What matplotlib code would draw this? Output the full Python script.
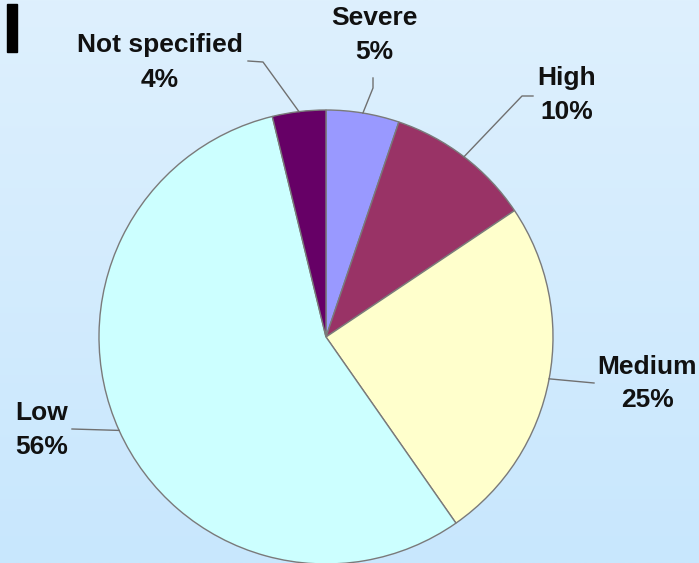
import numpy as np
import matplotlib
matplotlib.use('Agg')
import matplotlib.pyplot as plt
from matplotlib.patches import Rectangle

# severity split, clockwise from 12 o'clock
labels = ['Severe', 'High', 'Medium', 'Low', 'Not specified']
values = [5.2, 10.4, 24.7, 55.9, 3.8]
colors = ['#9999FF', '#993366', '#FFFFCC', '#CCFFFF', '#660066']

W, H = 699, 563
cx, cy, r = 326, H - 337, 227

# label layout in pixel coords (top-left origin): name pos, pct pos, elbow points
label_pos = {
    'Severe': ((374, 18), (374, 52), [(373, 78), (373, 88)]),
    'High': ((567, 78), (567, 112), [(533, 96), (522, 96)]),
    'Medium': ((647, 367), (647, 400), [(594, 383)]),
    'Low': ((42, 413), (42, 447), [(72, 429)]),
    'Not specified': ((160, 45), (160, 80), [(248, 61), (263, 62)]),
}

plt.rcParams['font.family'] = ['Liberation Sans', 'DejaVu Sans']

fig = plt.figure(figsize=(W / 100, H / 100), dpi=100)
ax = fig.add_axes([0, 0, 1, 1])

# background gradient
grad = np.linspace(0, 1, 256).reshape(-1, 1)
c_top = np.array([0xDE, 0xF0, 0xFD]) / 255
c_bot = np.array([0xC8, 0xE7, 0xFE]) / 255
img = c_top[None, None, :] * (1 - grad[:, :, None]) + c_bot[None, None, :] * grad[:, :, None]
ax.imshow(img, extent=[0, W, 0, H], aspect='auto', zorder=0)

wedges, _ = ax.pie(values, colors=colors, startangle=90, counterclock=False,
                   center=(cx, cy), radius=r, frame=True,
                   wedgeprops=dict(edgecolor='#7a7a7a', linewidth=1))
for w in wedges:
    w.set_zorder(2)

total = sum(values)
cum = 0
for lab, v in zip(labels, values):
    mid = (cum + v / 2) / total * 360
    cum += v
    ax_x = cx + r * np.sin(np.radians(mid))
    ax_y = cy + r * np.cos(np.radians(mid))
    name_p, pct_p, elbow = label_pos[lab]
    pts = [(x, H - y) for x, y in elbow] + [(ax_x, ax_y)]
    xs, ys = zip(*pts)
    ax.plot(xs, ys, color='#707070', lw=1, zorder=3)
    ax.text(name_p[0], H - name_p[1], lab, ha='center', va='center',
            fontsize=19, fontweight='bold', color='#111111', zorder=4)
    ax.text(pct_p[0], H - pct_p[1], '%d%%' % round(v), ha='center', va='center',
            fontsize=19, fontweight='bold', color='#111111', zorder=4)

# black marker at top-left
ax.add_patch(Rectangle((7, H - 52), 10, 48, color='black', zorder=5))

ax.set_xlim(0, W)
ax.set_ylim(0, H)
ax.set_aspect('auto')
ax.axis('off')

fig.savefig('out.png', dpi=100)
